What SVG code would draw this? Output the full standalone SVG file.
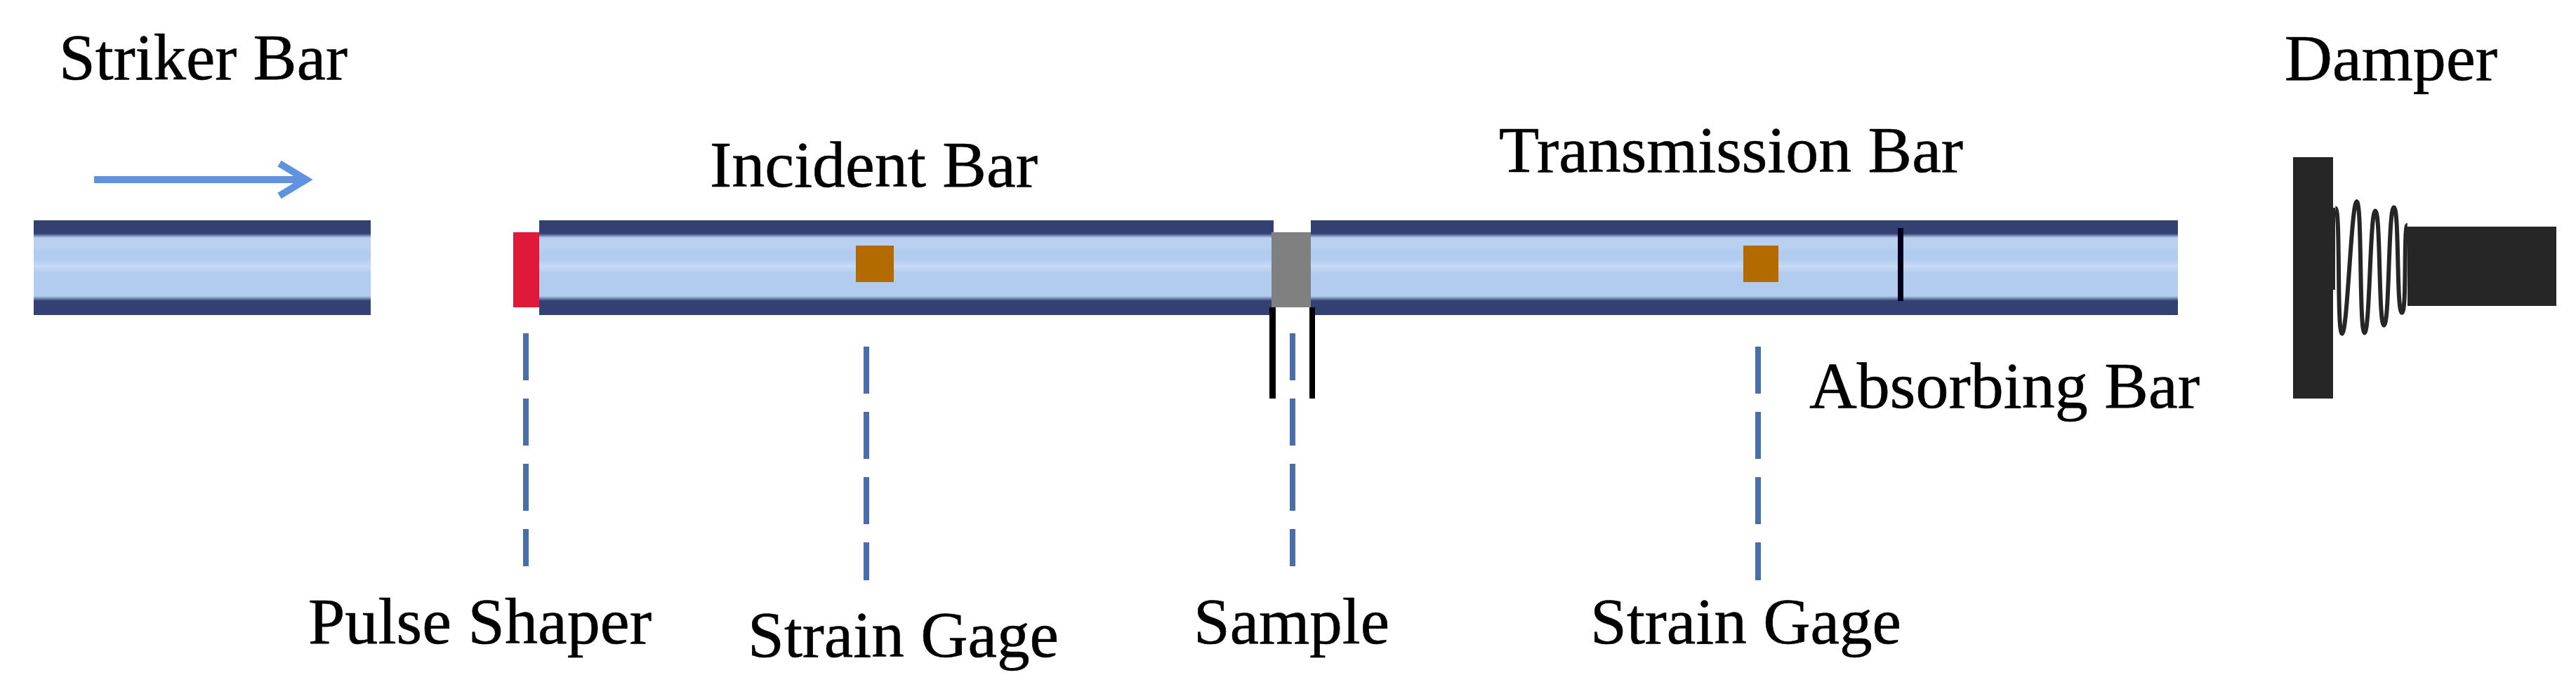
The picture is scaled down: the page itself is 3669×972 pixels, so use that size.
<svg xmlns="http://www.w3.org/2000/svg" width="3669" height="972" viewBox="0 0 3669 972">
<style>
.t{font-family:"Liberation Serif","Times New Roman",serif;font-size:93px;fill:#000;stroke:#000;stroke-width:0.6}
.bar{fill:url(#barGrad)}
.gage{fill:#b36b00}
.lead{stroke:#4a6fa8;stroke-width:8;fill:none;stroke-dasharray:67 26}
.blk{fill:#000}
.dmp{fill:#262626}
</style>
<defs>
<linearGradient id="barGrad" x1="0" y1="314" x2="0" y2="449" gradientUnits="userSpaceOnUse">
<stop offset="0" stop-color="#324172"/>
<stop offset="0.14" stop-color="#324172"/>
<stop offset="0.185" stop-color="#b9d0f1"/>
<stop offset="0.27" stop-color="#b9d0f1"/>
<stop offset="0.33" stop-color="#b2ccef"/>
<stop offset="0.41" stop-color="#b2ccef"/>
<stop offset="0.485" stop-color="#c6d9f6"/>
<stop offset="0.56" stop-color="#b2ccef"/>
<stop offset="0.8" stop-color="#b2ccef"/>
<stop offset="0.85" stop-color="#324172"/>
<stop offset="1" stop-color="#324172"/>
</linearGradient>
</defs>
<rect width="3669" height="972" fill="#fff"/>
<g id="striker-bar">
<rect class="bar" x="48" y="314" width="480" height="135"/>
<text class="t" x="84" y="113" textLength="411" lengthAdjust="spacingAndGlyphs">Striker Bar</text>
</g>
<g id="incident-bar">
<rect class="bar" x="768" y="314" width="1046" height="135"/>
<text class="t" x="1011" y="266" textLength="467" lengthAdjust="spacingAndGlyphs">Incident Bar</text>
</g>
<g id="transmission-bar">
<rect class="bar" x="1867" y="314" width="1235" height="135"/>
<text class="t" x="2135" y="245" textLength="661" lengthAdjust="spacingAndGlyphs">Transmission Bar</text>
</g>
<g id="absorbing-joint">
<rect x="2703" y="325" width="8" height="104" fill="#00001e"/>
<text class="t" x="2577" y="581" textLength="556" lengthAdjust="spacingAndGlyphs">Absorbing Bar</text>
</g>
<g id="pulse-shaper">
<rect x="731" y="331" width="37" height="107" fill="#e0193a"/>
<text class="t" x="439" y="917" textLength="489" lengthAdjust="spacingAndGlyphs">Pulse Shaper</text>
</g>
<g id="strain-gage-1">
<rect class="gage" x="1219" y="350" width="54" height="52"/>
<text class="t" x="1065" y="936" textLength="443" lengthAdjust="spacingAndGlyphs">Strain Gage</text>
</g>
<g id="sample">
<rect x="1811" y="331" width="56" height="107" fill="#808080"/>
<rect class="blk" x="1808" y="438" width="9" height="130"/>
<rect class="blk" x="1865" y="438" width="8" height="130"/>
<text class="t" x="1700" y="917" textLength="279" lengthAdjust="spacingAndGlyphs">Sample</text>
</g>
<g id="strain-gage-2">
<rect class="gage" x="2483" y="350" width="50" height="52"/>
<text class="t" x="2265" y="917" textLength="443" lengthAdjust="spacingAndGlyphs">Strain Gage</text>
</g>
<g id="damper">
<rect class="dmp" x="3266" y="224" width="57" height="344"/>
<rect class="dmp" x="3322" y="296" width="4" height="117"/>
<rect class="dmp" x="3429" y="323" width="212" height="113"/>
<path fill="none" stroke="#262626" stroke-width="6" d="M3326.4 296.6C3334 296.6 3328 475.7 3335.8 475.7C3343.5 475.7 3349 287 3356.7 287C3364.5 287 3360 474.5 3367.8 474.5C3375.5 474.5 3375.5 300.4 3383.1 300.4C3391 300.4 3387.5 463.8 3395.5 463.8C3403.5 463.8 3401.5 295.4 3409.6 295.4C3417.5 295.4 3413 445.8 3421 445.8C3428.5 445.8 3423 320.7 3428.8 320.7"/>
<text class="t" x="3254" y="114" textLength="303" lengthAdjust="spacingAndGlyphs">Damper</text>
</g>
<g id="connectors">
<path fill="none" stroke="#5f93df" stroke-width="10" d="M134 256H434M398 233L436 256L398 279"/>
<line class="lead" x1="749" y1="475" x2="749" y2="807"/>
<line class="lead" x1="1234" y1="494" x2="1234" y2="827"/>
<line class="lead" x1="1841" y1="475" x2="1841" y2="807"/>
<line class="lead" x1="2504" y1="494" x2="2504" y2="827"/>
</g>
</svg>
